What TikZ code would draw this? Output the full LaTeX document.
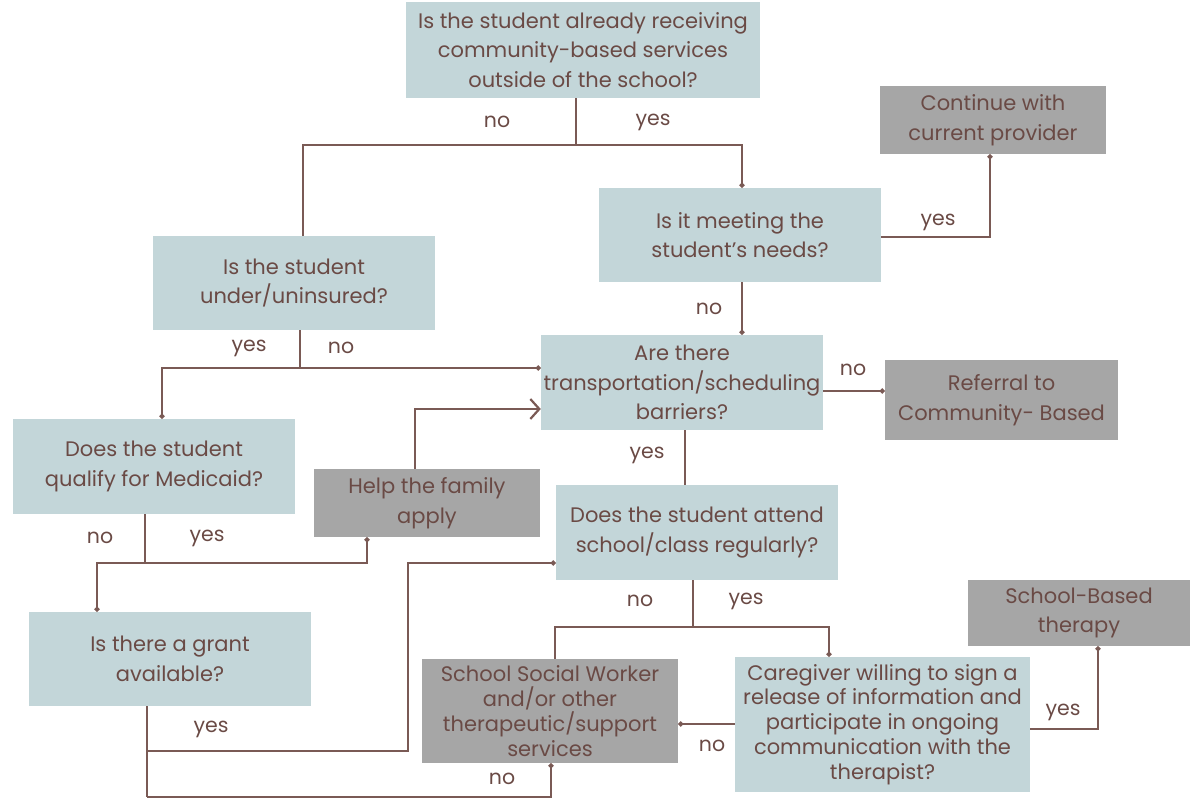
\documentclass[tikz,border=0pt]{standalone}
\usepackage{fontspec}
\setmainfont{Poppins}
\usetikzlibrary{arrows.meta}
\definecolor{qblue}{HTML}{C3D6D9}
\definecolor{agrey}{HTML}{A6A6A6}
\definecolor{lnc}{HTML}{7A5A55}
\definecolor{txc}{HTML}{6A4A45}
\tikzset{
  qbox/.style={fill=qblue, draw=none, align=center, inner sep=0pt, text=txc,
    font=\fontsize{21}{29.5}\selectfont},
  abox/.style={qbox, fill=agrey},
  tight/.style={font=\fontsize{21}{24.8}\selectfont},
  ln/.style={draw=lnc, line width=1.8pt},
  dotend/.style={-{Circle[length=5pt]}},
  chev/.style={-{Straight Barb[length=9pt, width=20pt, line width=2.2pt]}},
  lbl/.style={text=txc, font=\fontsize{20.5}{22}\selectfont, inner sep=0pt}
}
\begin{document}
\begin{tikzpicture}[x=1pt, y=-1pt]
\useasboundingbox (0,0) rectangle (1191,799);

% question and action boxes
\node[qbox, minimum width=354, minimum height=96] (q1) at (583,50)
  {Is the student already receiving\\community-based services\\outside of the school?};
\node[abox, minimum width=226, minimum height=68] (cont) at (993,120)
  {Continue with\\current provider};
\node[qbox, minimum width=282, minimum height=94] (q3) at (740,235)
  {Is it meeting the\\student's needs?};
\node[qbox, minimum width=282, minimum height=94] (q4) at (294,283)
  {Is the student\\under/uninsured?};
\node[qbox, minimum width=282, minimum height=95] (q5) at (682,382.5)
  {Are there\\transportation/scheduling\\barriers?};
\node[abox, minimum width=233, minimum height=80] (ref) at (1001.5,400)
  {Referral to\\Community- Based};
\node[qbox, minimum width=282, minimum height=95] (q7) at (154,466.5)
  {Does the student\\qualify for Medicaid?};
\node[abox, minimum width=226, minimum height=68] (help) at (427,503)
  {Help the family\\apply};
\node[qbox, minimum width=282, minimum height=95] (q9) at (697,532.5)
  {Does the student attend\\school/class regularly?};
\node[qbox, minimum width=282, minimum height=94] (q10) at (170,659)
  {Is there a grant\\available?};
\node[abox, minimum width=222, minimum height=66] (sb) at (1079,613)
  {School-Based\\therapy};
\node[abox, tight, minimum width=256, minimum height=104] (ssw) at (550,711)
  {School Social Worker\\and/or other\\therapeutic/support\\services};
\node[qbox, tight, minimum width=295, minimum height=135] (cg) at (882.5,724.5)
  {Caregiver willing to sign a\\release of information and\\participate in ongoing\\communication with the\\therapist?};

% junction points of the branching lines
\coordinate (j1) at (576,145);
\coordinate (j4) at (300,368);
\coordinate (j7) at (145,563);
\coordinate (j9) at (693,627);
\coordinate (jy) at (147,751);
\coordinate (jn) at (147,797);

% connectors
\draw[ln] ([xshift=-7pt]q1.south) -- (j1);
\draw[ln, dotend] (303,145) -- (742,145) -- ([xshift=2pt]q3.north);
\draw[ln] (j1) -- (303,145) -- ([xshift=9pt]q4.north);
\draw[ln, dotend] (q3.east |- 0,237) -- (990,237) -- (cont.south -| 990,0);
\draw[ln, dotend] ([xshift=2pt]q3.south) -- ([xshift=60pt]q5.north);
\draw[ln] ([xshift=6pt]q4.south) -- (j4);
\draw[ln, dotend] (162,368) -- (q5.west |- 0,368);
\draw[ln, dotend] (j4) -- (162,368) -- ([xshift=8pt]q7.north);
\draw[ln, dotend] (q5.east |- 0,391) -- (ref.west |- 0,391);
\draw[ln] ([xshift=3pt]q5.south) -- ([xshift=-12pt]q9.north);
\draw[ln, chev] ([xshift=-12pt]help.north) -- (415,409) -- (q5.west |- 0,409);
\draw[ln] ([xshift=-9pt]q7.south) -- (j7);
\draw[ln, dotend] (j7) -- (367,563) -- ([xshift=-60pt]help.south);
\draw[ln, dotend] (j7) -- (97,563) -- ([xshift=-73pt]q10.north);
\draw[ln] ([xshift=-23pt]q10.south) -- (jn);
\draw[ln, dotend] (jy) -- (408,751) -- (408,563) -- (q9.west |- 0,563);
\draw[ln, dotend] (jn) -- (551,797) -- ([xshift=1pt]ssw.south);
\draw[ln] ([xshift=-4pt]q9.south) -- (j9);
\draw[ln] (j9) -- (555,627) -- ([xshift=5pt]ssw.north);
\draw[ln, dotend] (j9) -- (829,627) -- (cg.north -| 829,0);
\draw[ln, dotend] (cg.west |- 0,724) -- (ssw.east |- 0,724);
\draw[ln, dotend] (cg.east |- 0,729) -- (1098,729) -- (sb.south -| 1098,0);

% branch labels
\node[lbl] (l1) at (497,122) {no};
\node[lbl] (l2) at (653,122) {yes};
\node[lbl] (l3) at (938,222) {yes};
\node[lbl] (l4) at (709,309) {no};
\node[lbl] (l5) at (249,348) {yes};
\node[lbl] (l6) at (341,348) {no};
\node[lbl] (l7) at (853,370) {no};
\node[lbl] (l8) at (647,455) {yes};
\node[lbl] (l9) at (100,538) {no};
\node[lbl] (l10) at (207,538) {yes};
\node[lbl] (l11) at (640,601) {no};
\node[lbl] (l12) at (746,601) {yes};
\node[lbl] (l13) at (211,729) {yes};
\node[lbl] (l14) at (712,746) {no};
\node[lbl] (l15) at (1063,712) {yes};
\node[lbl] (l16) at (502,779) {no};
\end{tikzpicture}
\end{document}
